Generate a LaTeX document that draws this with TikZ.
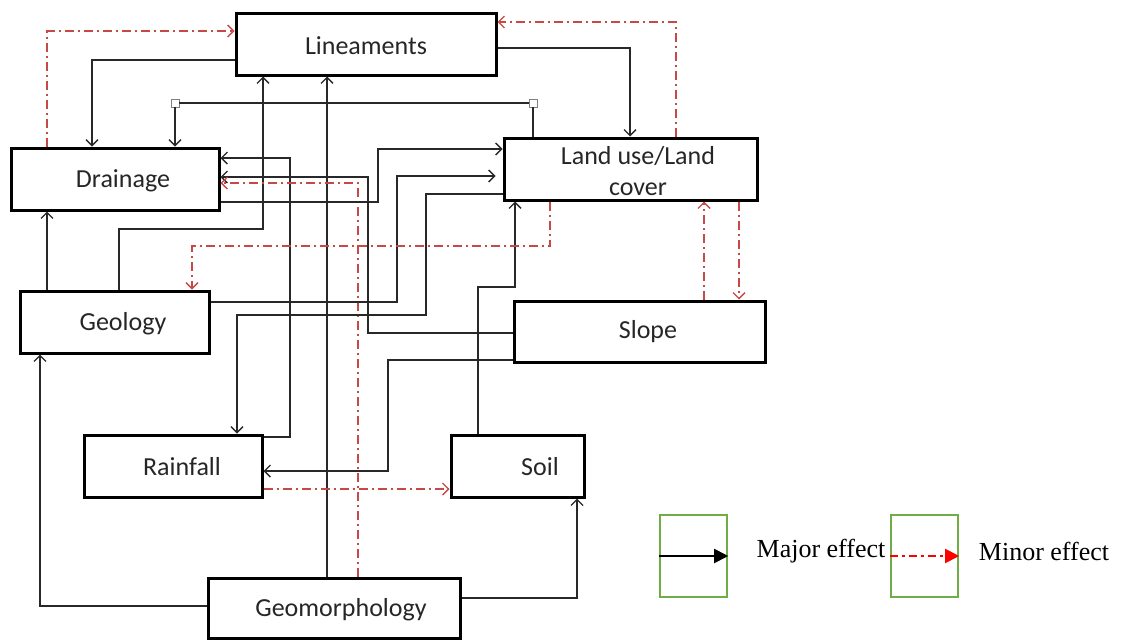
\documentclass[tikz,border=0pt]{standalone}
\usepackage{fontspec}
\setmainfont{Carlito}
\newfontfamily\legfont{Liberation Serif}
\usetikzlibrary{arrows.meta}
\definecolor{minred}{RGB}{200,72,72}
\definecolor{lgreen}{RGB}{112,173,71}
\definecolor{linegray}{RGB}{40,40,40}
\begin{document}
\begin{tikzpicture}[x=1pt,y=-1pt,
  box/.style={draw=black,line width=3pt,inner sep=0pt},
  txt/.style={font=\fontsize{26}{31}\selectfont,inner sep=0pt,align=center,text=black!85},
  legtxt/.style={font=\legfont\fontsize{26}{31}\selectfont,inner sep=0pt},
  major/.style={draw=linegray,line width=1.4pt,-{Straight Barb[length=6pt,width=12pt]}},
  minor/.style={draw=minred,line width=1.4pt,dash pattern=on 9pt off 4pt on 2pt off 4pt,-{Straight Barb[length=6pt,width=12pt]}},
  sqr/.style={draw=gray,fill=white,line width=0.8pt,minimum size=8pt,inner sep=0pt},
  legbox/.style={draw=lgreen,line width=2.4pt,minimum width=67pt,minimum height=82pt,inner sep=0pt}]
\useasboundingbox (0,0) rectangle (1125,640);

% boxes
\node[box,minimum width=260pt,minimum height=62pt] (lin) at (366,44) {};
\node[box,minimum width=208pt,minimum height=62pt] (dra) at (115,179) {};
\node[box,minimum width=253pt,minimum height=62pt] (lu) at (630.5,169) {};
\node[box,minimum width=189pt,minimum height=62pt] (geo) at (114.5,322) {};
\node[box,minimum width=251pt,minimum height=61pt] (slo) at (639.5,331.5) {};
\node[box,minimum width=178pt,minimum height=62pt] (rai) at (173,466) {};
\node[box,minimum width=133pt,minimum height=62pt] (soi) at (517.5,466) {};
\node[box,minimum width=252pt,minimum height=60pt] (gmo) at (334,608) {};

% texts
\node[txt] (lin-t) at (366,46) {Lineaments};
\node[txt] (dra-t) at (123,181) {Drainage};
\node[txt] (lu-t) at (638,171) {Land use/Land\\cover};
\node[txt] (geo-t) at (123,324) {Geology};
\node[txt] (slo-t) at (648,332) {Slope};
\node[txt] (rai-t) at (182,467) {Rainfall};
\node[txt] (soi-t) at (540,467) {Soil};
\node[txt] (gmo-t) at (341,610) {Geomorphology};

% bend coordinates
\coordinate (m1) at (47,31);
\coordinate (a2) at (92,60);
\coordinate (a4) at (630,48);
\coordinate (m5) at (676,22);
\coordinate (a6a) at (119,229);
\coordinate (a6b) at (263,229);
\coordinate (a7) at (327,0);
\coordinate (a8a) at (290,437);
\coordinate (a8b) at (290,158);
\coordinate (a9a) at (368,333);
\coordinate (a9b) at (368,177);
\coordinate (m10) at (358,183);
\coordinate (a11a) at (378,202);
\coordinate (a11b) at (378,149);
\coordinate (a12a) at (397,302);
\coordinate (a12b) at (397,176);
\coordinate (a13a) at (426,194);
\coordinate (a13b) at (426,315);
\coordinate (a13c) at (237,315);
\coordinate (a14a) at (478,287);
\coordinate (a14b) at (515,287);
\coordinate (a15a) at (388,360);
\coordinate (a15b) at (388,471);
\coordinate (m16) at (0,489);
\coordinate (a17) at (577,598);
\coordinate (a18) at (40,606);
\coordinate (a19) at (47,0);
\coordinate (m20a) at (550,246);
\coordinate (m20b) at (192,246);
\coordinate (m21) at (704,0);
\coordinate (m22) at (739,0);

% squares
\node[sqr] (sq1) at (175,103) {};
\node[sqr] (sq2) at (533,103) {};

% connectors
\draw[minor] (dra.north -| m1) -- (m1) -- (lin.west |- m1);
\draw[major] (lin.west |- a2) -- (a2) -- (dra.north -| a2);
\draw[major] (lu.north -| sq2) -- (sq2) -- (sq1) -- (dra.north -| sq1);
\draw[major] (lin.east |- a4) -- (a4) -- (lu.north -| a4);
\draw[minor] (lu.north -| m5) -- (m5) -- (lin.east |- m5);
\draw[major] (geo.north -| a6a) -- (a6a) -- (a6b) -- (lin.south -| a6b);
\draw[major] (gmo.north -| a7) -- (lin.south -| a7);
\draw[major] (rai.east |- a8a) -- (a8a) -- (a8b) -- (dra.east |- a8b);
\draw[major] (slo.west |- a9a) -- (a9a) -- (a9b) -- (dra.east |- a9b);
\draw[minor] (gmo.north -| m10) -- (m10) -- (dra.east |- m10);
\draw[major] (dra.east |- a11a) -- (a11a) -- (a11b) -- (lu.west |- a11b);
\draw[major,shorten >=7pt] (geo.east |- a12a) -- (a12a) -- (a12b) -- (lu.west |- a12b);
\draw[major] (lu.west |- a13a) -- (a13a) -- (a13b) -- (a13c) -- (rai.north -| a13c);
\draw[major] (soi.north -| a14a) -- (a14a) -- (a14b) -- (lu.south -| a14b);
\draw[major] (slo.west |- a15a) -- (a15a) -- (a15b) -- (rai.east |- a15b);
\draw[minor] (rai.east |- m16) -- (soi.west |- m16);
\draw[major] (gmo.east |- a17) -- (a17) -- (soi.south -| a17);
\draw[major] (gmo.west |- a18) -- (a18) -- (geo.south -| a18);
\draw[major] (geo.north -| a19) -- (dra.south -| a19);
\draw[minor] (lu.south -| m20a) -- (m20a) -- (m20b) -- (geo.north -| m20b);
\draw[minor] (slo.north -| m21) -- (lu.south -| m21);
\draw[minor] (lu.south -| m22) -- (slo.north -| m22);

% legend
\node[legbox] (lg1) at (693.5,556) {};
\node[legbox] (lg2) at (924.5,556) {};
\draw[black,line width=2pt,-{Triangle[length=14pt,width=14pt]}] (lg1.west) -- (lg1.east);
\draw[red,line width=2pt,dash pattern=on 8pt off 4pt on 3pt off 4pt,-{Triangle[length=14pt,width=14pt]}] (lg2.west) -- (lg2.east);
\node[legtxt] (lg1-t) at (821,551) {Major effect};
\node[legtxt] (lg2-t) at (1044,551) {Minor effect};
\end{tikzpicture}
\end{document}
